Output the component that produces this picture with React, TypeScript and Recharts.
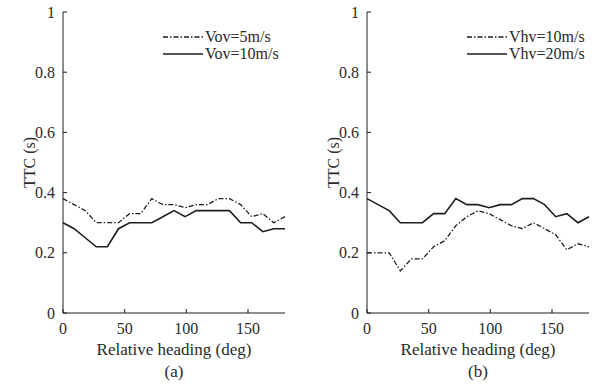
import { Label, Legend, Line, LineChart, XAxis, YAxis } from "recharts";

const headings = [0, 9, 18, 27, 36, 45, 54, 63, 72, 81, 90, 99, 108, 117, 126, 135, 144, 153, 162, 171, 180];

// panel (a)
const vov5 = [0.38, 0.36, 0.34, 0.3, 0.3, 0.3, 0.33, 0.33, 0.38, 0.36, 0.36, 0.35, 0.36, 0.36, 0.38, 0.38, 0.36, 0.32, 0.33, 0.3, 0.32];
const vov10 = [0.3, 0.28, 0.25, 0.22, 0.22, 0.28, 0.3, 0.3, 0.3, 0.32, 0.34, 0.32, 0.34, 0.34, 0.34, 0.34, 0.3, 0.3, 0.27, 0.28, 0.28];

// panel (b)
const vhv10 = [0.2, 0.2, 0.2, 0.14, 0.18, 0.18, 0.22, 0.24, 0.29, 0.32, 0.34, 0.33, 0.31, 0.29, 0.28, 0.3, 0.28, 0.26, 0.21, 0.23, 0.22];
const vhv20 = [0.38, 0.36, 0.34, 0.3, 0.3, 0.3, 0.33, 0.33, 0.38, 0.36, 0.36, 0.35, 0.36, 0.36, 0.38, 0.38, 0.36, 0.32, 0.33, 0.3, 0.32];

const xTicks = [0, 50, 100, 150];
const yTicks = [0, 0.2, 0.4, 0.6, 0.8, 1];

const INK = "#1e1e1e";
const TEXT = "#2a2a2a";
const FONT = "Liberation Serif, DejaVu Serif, serif";
const DASH_DOT = "5 2 1.5 2";

const toRows = (a: number[], b: number[]) =>
  headings.map((h, i) => ({ heading: h, dashed: a[i], solid: b[i] }));

function LegendBox({ labels }: { labels: string[] }) {
  const styles = [DASH_DOT, undefined];
  return (
    <div style={{ fontFamily: FONT, fontSize: 16, color: TEXT, lineHeight: "17px" }}>
      {labels.map((l, i) => (
        <div key={l} style={{ display: "flex", alignItems: "center", height: 17 }}>
          <svg width={40} height={10} style={{ display: "block" }}>
            <line x1={0} y1={5} x2={40} y2={5} stroke={INK} strokeWidth={1.3} strokeDasharray={styles[i]} />
          </svg>
          <span style={{ marginLeft: 2, whiteSpace: "nowrap" }}>{l}</span>
        </div>
      ))}
    </div>
  );
}

function Panel({
  rows,
  labels,
  tag,
  width,
  rightMargin,
}: {
  rows: { heading: number; dashed: number; solid: number }[];
  labels: string[];
  tag: string;
  width: number;
  rightMargin: number;
}) {
  const tickStyle = { fontFamily: FONT, fontSize: 16, fill: TEXT };
  return (
    <LineChart width={width} height={385} data={rows} margin={{ top: 12, right: rightMargin, bottom: 0, left: 23 }}>
      <XAxis
        dataKey="heading"
        type="number"
        domain={[0, 180]}
        ticks={xTicks}
        height={72}
        stroke={INK}
        tickSize={-4}
        tickMargin={14}
        tick={tickStyle}
      >
        <Label value="Relative heading (deg)" position="insideTop" offset={30} style={{ fontFamily: FONT, fontSize: 17, fill: TEXT }} />
        <Label value={tag} position="insideTop" offset={52} style={{ fontFamily: FONT, fontSize: 17, fill: TEXT }} />
      </XAxis>
      <YAxis
        type="number"
        domain={[0, 1]}
        ticks={yTicks}
        width={40}
        stroke={INK}
        tickSize={-4}
        tickMargin={12}
        tick={tickStyle}
      >
        <Label
          value="TTC (s)"
          angle={-90}
          position="insideLeft"
          offset={6}
          style={{ fontFamily: FONT, fontSize: 16, fill: TEXT, textAnchor: "middle" }}
        />
      </YAxis>
      <Legend
        layout="vertical"
        align="center"
        verticalAlign="middle"
        wrapperStyle={{ position: "absolute", top: 28, left: 163, width: "auto" }}
        content={() => <LegendBox labels={labels} />}
      />
      <Line
        type="linear"
        dataKey="dashed"
        stroke={INK}
        strokeWidth={1.3}
        strokeDasharray={DASH_DOT}
        dot={false}
        isAnimationActive={false}
      />
      <Line type="linear" dataKey="solid" stroke={INK} strokeWidth={1.6} dot={false} isAnimationActive={false} />
    </LineChart>
  );
}

export default function App() {
  return (
    <div style={{ position: "absolute", left: 0, top: 0, width: 600, height: 385, background: "#fff", overflow: "hidden" }}>
      <div style={{ position: "absolute", left: 0, top: 0 }}>
        <Panel rows={toRows(vov5, vov10)} labels={["Vov=5m/s", "Vov=10m/s"]} tag="(a)" width={300} rightMargin={15} />
      </div>
      <div style={{ position: "absolute", left: 304, top: 0 }}>
        <Panel rows={toRows(vhv10, vhv20)} labels={["Vhv=10m/s", "Vhv=20m/s"]} tag="(b)" width={296} rightMargin={11} />
      </div>
    </div>
  );
}
